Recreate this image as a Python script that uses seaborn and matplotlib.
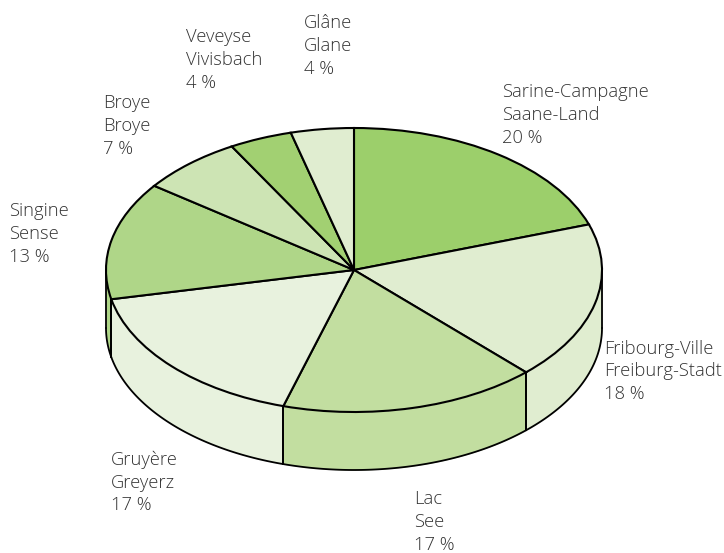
import numpy as np
import matplotlib
matplotlib.use('Agg')
import matplotlib.pyplot as plt
import seaborn as sns

names_fr = ['Sarine-Campagne', 'Fribourg-Ville', 'Lac', 'Gruyère', 'Singine', 'Broye', 'Veveyse', 'Glâne']
names_de = ['Saane-Land', 'Freiburg-Stadt', 'See', 'Greyerz', 'Sense', 'Broye', 'Vivisbach', 'Glane']
shares = [19.8, 18.0, 16.8, 17.1, 13.4, 6.7, 4.1, 4.1]
colors = ['#9ccf6b', '#e0edd0', '#c2dea0', '#e8f2de', '#afd688', '#cde4b4', '#a2d072', '#e0edd0']
label_x = [502, 604, 414, 111, 9, 103, 186, 304]
label_y = [83, 339.5, 490, 450.5, 202.5, 94.5, 28.5, 14]

sns.set_theme(style='white')
plt.rcParams['font.family'] = ['Open Sans', 'DejaVu Sans']

W, H = 724, 553
cx, cy, rx, ry, depth_px = 354, 270, 248, 142, 58
depth = depth_px / ry

fig = plt.figure(figsize=(W / 100, H / 100), dpi=100)
ax = fig.add_axes([0, 0, 1, 1])

# side wall first, only the front half of the ellipse is visible
edges = np.cumsum([0] + shares) / sum(shares) * 2 * np.pi
for i, col in enumerate(colors):
    a = max(edges[i], np.pi / 2)
    b = min(edges[i + 1], 3 * np.pi / 2)
    if b <= a:
        continue
    t = np.linspace(a, b, 80)
    xs = np.sin(t)
    ys = np.cos(t)
    ax.fill_between(xs, ys, ys - depth, color=col, lw=0, zorder=1)
    ax.plot(xs, ys - depth, color='black', lw=1.3, zorder=2)
    ax.plot([xs[0], xs[0]], [ys[0], ys[0] - depth], color='black', lw=1.3, zorder=2)
    ax.plot([xs[-1], xs[-1]], [ys[-1], ys[-1] - depth], color='black', lw=1.3, zorder=2)

ax.pie(shares, colors=colors, startangle=90, counterclock=False, radius=1,
       wedgeprops={'edgecolor': 'black', 'linewidth': 1.5, 'zorder': 3})

# squash the circle into the ellipse
ax.set_aspect('auto')
ax.set_xlim(-cx / rx, (W - cx) / rx)
ax.set_ylim(-(H - cy) / ry, cy / ry)
ax.axis('off')

for fr, de, s, x, y in zip(names_fr, names_de, shares, label_x, label_y):
    fig.text(x / W, 1 - y / H, f'{fr}\n{de}\n{round(s)} %', ha='left', va='top',
             fontsize=13.2, color='#333333', linespacing=1.35, fontweight='light')

fig.savefig('out.png', dpi=100)
